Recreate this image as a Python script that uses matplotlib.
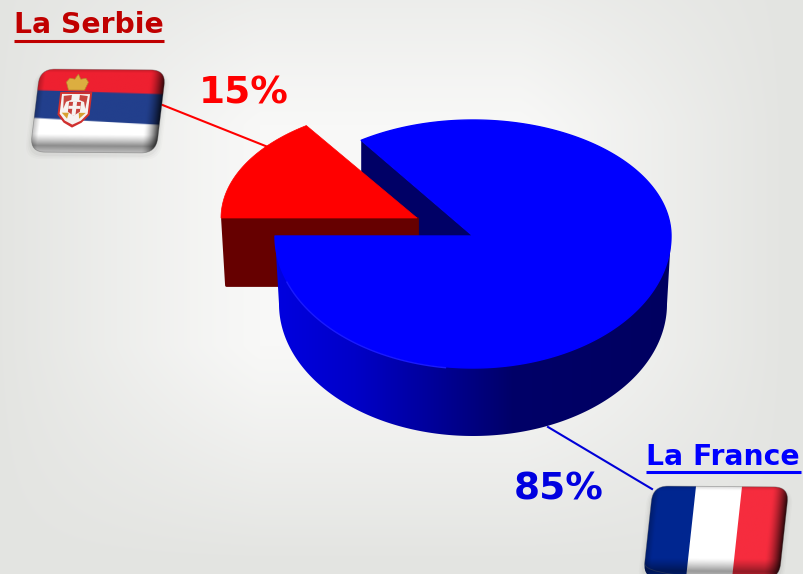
import numpy as np
import matplotlib
matplotlib.use('Agg')
import matplotlib.pyplot as plt
from matplotlib.patches import PathPatch, FancyBboxPatch, Polygon
from matplotlib.path import Path
from matplotlib.transforms import Affine2D
from matplotlib.colors import LinearSegmentedColormap

names = ['La Serbie', 'La France']
shares = [15, 85]
labels = ['15%', '85%']

plt.rcParams['font.family'] = ['DejaVu Sans']

fig = plt.figure(figsize=(8.04, 5.74), dpi=100)
ax = fig.add_axes([0, 0, 1, 1])

# background, soft white patch in the middle
xx, yy = np.meshgrid(np.arange(804), np.arange(574))
gx = np.clip((np.abs(xx - 390) - 130) / 270, 0, 1)
gy = np.clip((np.abs(yy - 235) - 110) / 220, 0, 1)
g = 1 - (1 - gx**1.1) * (1 - gy**1.1)
bg = np.dstack([248 - 21 * g, 248 - 20 * g, 247 - 22 * g]) / 255
ax.imshow(bg, extent=(0, 804, 574, 0), aspect='auto', zorder=0, interpolation='bilinear')


def arc(cx, cy, rx, ry, a0, a1, n=120):
    t = np.radians(np.linspace(a0, a1, n))
    return np.column_stack([cx + rx * np.cos(t), cy - ry * np.sin(t)])


def closed(pts):
    codes = [Path.MOVETO] + [Path.LINETO] * (len(pts) - 1) + [Path.CLOSEPOLY]
    return Path(np.vstack([pts, pts[0]]), codes)


# the pie starts at the left and goes clockwise, the view squeezes it a little
stretch = 1.03
cut = 180 - 360 * shares[0] / sum(shares) * stretch

# red slice, pulled out to the upper left
rc = (417, 218)
r_top = arc(rc[0], rc[1], 196, 112, 180, cut)
r_side = np.array([[rc[0] - 195, rc[1]], [rc[0], rc[1]], [rc[0], rc[1] + 67], [rc[0] - 191, rc[1] + 67]])

# blue slice, front half is bigger because of the perspective
bc = (473, 236)
depth = 68
rx, ry_back, ry_front = 198, 116, 132
b_back_arc = arc(bc[0], bc[1], rx, ry_back, cut, 0, 150)
b_front_arc = arc(bc[0], bc[1], rx, ry_front, 0, -180, 200)
b_top = np.vstack([b_back_arc, b_front_arc])
b_low = arc(bc[0], bc[1] + depth, rx - 4, ry_front, 180, 360, 200)
b_side = np.vstack([[[bc[0] - rx, bc[1]]], b_low, [[bc[0] + rx, bc[1]]]])
edge = b_back_arc[0]
b_back = np.array([[bc[0], bc[1]], edge, [edge[0], edge[1] + depth], [bc[0], bc[1] + depth]])

ax.add_patch(Polygon(b_back, closed=True, fc='#000066', ec='none', zorder=2))
ax.add_patch(Polygon(r_side, closed=True, fc='#660000', ec='#660000', lw=2, joinstyle='round', zorder=3))
ax.add_patch(PathPatch(closed(np.vstack([[rc], r_top])), fc='#ff0000', ec='#ff0000', lw=0.5, zorder=4))

side_cmap = LinearSegmentedColormap.from_list('side', [
    (0.0, '#0000e0'), (0.2, '#0000c8'), (0.37, '#0000a0'), (0.5, '#000080'),
    (0.6, '#000068'), (1.0, '#000060')])
side_img = ax.imshow(np.linspace(0, 1, 256).reshape(1, -1), cmap=side_cmap, aspect='auto',
                     extent=(bc[0] - rx, bc[0] + rx, 574, 0), zorder=5)
side_patch = PathPatch(closed(b_side), fc='none', ec='none', zorder=5)
ax.add_patch(side_patch)
side_img.set_clip_path(side_patch)
ax.add_patch(PathPatch(closed(np.vstack([[bc], b_top])), fc='#0000ff', ec='#0000ff', lw=1, joinstyle='round', zorder=6))
# light rim along the front edge
rim = arc(bc[0], bc[1] + 1, rx, ry_front, 200, 262, 60)
ax.plot(rim[:, 0], rim[:, 1], color='#1a1aff', lw=1, zorder=6.5)

# leader lines
ax.plot([160, 268], [104, 147], color='#ff0000', lw=1.5, zorder=1)
ax.plot([548, 652], [427, 489], color='#0000d8', lw=1.5, zorder=1)

# titles and percents
for name, x, y, col, x0, x1, yu in [(names[0], 89, 25, '#c00000', 14, 164, 41),
                                    (names[1], 723, 457, '#0000ff', 646, 801, 472)]:
    ax.text(x, y, name, color=col, fontsize=20.3, fontweight='bold', ha='center', va='center', zorder=8)
    ax.plot([x0, x1], [yu, yu], color=col, lw=2.2, solid_capstyle='butt', zorder=8)
ax.text(244, 94, labels[0], color='#ff0000', fontsize=27, fontweight='bold', ha='center', va='center', zorder=8)
ax.text(559, 490, labels[1], color='#0000e0', fontsize=27, fontweight='bold', ha='center', va='center', zorder=8)


def bevel(img, dark_right, dark_bottom):
    h, w = img.shape[:2]
    u, v = np.meshgrid((np.arange(w) + .5) / w, (np.arange(h) + .5) / h)
    sh = np.ones((h, w))
    sh *= 1 - dark_right * np.clip((u - 0.88) / 0.12, 0, 1)**1.5
    sh *= 1 - 0.25 * np.clip((0.05 - u) / 0.05, 0, 1)
    sh *= 1 - dark_bottom * np.clip((v - 0.78) / 0.14, 0, 1)**1.2
    sh *= 1 + dark_bottom * 0.8 * np.clip((v - 0.92) / 0.08, 0, 1)
    sh *= 1 - 0.15 * np.clip((0.04 - v) / 0.04, 0, 1)
    return np.clip(img * sh[:, :, None], 0, 1)


def place_flag(img, origin, uvec, vvec, w, h):
    m = Affine2D.from_values(uvec[0] / w, uvec[1] / w, vvec[0] / h, vvec[1] / h, origin[0], origin[1])
    tr = m + ax.transData
    # soft shadow
    for k, a in [(10, .015), (7, .02), (4, .03)]:
        ax.add_patch(FancyBboxPatch((-k / 2, 2), w + k, h + k / 2, boxstyle='round,pad=0,rounding_size=16',
                                    fc='black', ec='none', alpha=a, transform=tr, zorder=2))
    im = ax.imshow(img, extent=(0, w, h, 0), transform=tr, zorder=7, interpolation='bilinear', aspect='auto')
    box = FancyBboxPatch((0, 0), w, h, boxstyle='round,pad=0,rounding_size=15', fc='none', ec='#55555566',
                         lw=0.6, transform=tr, zorder=7.5)
    ax.add_patch(box)
    im.set_clip_path(box)
    return tr


# Serbian flag, stripes tilt a bit in the picture so blend them to keep the edges smooth
sw, sh = 126, 84
uu, vv = np.meshgrid(np.arange(sw), np.arange(sh))
red_w = np.clip(21 + 3 * uu / sw - vv + .5, 0, 1)[:, :, None]
white_w = np.clip(vv - 49 - 6 * uu / sw + .5, 0, 1)[:, :, None]
red = np.array([0xee, 0x20, 0x30]) / 255
blue = np.array([0x22, 0x3f, 0x8c]) / 255
serbia = red_w * red + white_w * np.ones(3) + (1 - red_w - white_w) * blue
serbia = bevel(serbia, 0.8, 0.45)
tr = place_flag(serbia, (40, 69), (126, 1), (-10, 83), sw, sh)

shield = np.array([[23, 23], [55, 23], [55, 46], [48, 54], [39, 59], [30, 54], [23, 46]])
ax.add_patch(Polygon(shield, closed=True, fc='#d0302e', ec='none', transform=tr, zorder=7.6))
inner = np.array([[25, 25], [53, 25], [53, 45], [47, 52], [39, 56], [31, 52], [25, 45]])
ax.add_patch(Polygon(inner, closed=True, fc='#f6f2f0', ec='none', transform=tr, zorder=7.7))
# eagle wings and small shield, only rough marks at this size
for pts, col in [([[27, 27], [35, 26], [35, 31], [30, 33], [28, 40]], '#c8443e'),
                 ([[51, 27], [43, 26], [43, 31], [48, 33], [50, 40]], '#c8443e'),
                 ([[33, 33], [45, 33], [45, 43], [39, 47], [33, 43]], '#c8443e'),
                 ([[37, 33], [41, 33], [41, 47], [37, 47]], '#f6f2f0'),
                 ([[33, 37], [45, 37], [45, 40], [33, 40]], '#f6f2f0'),
                 ([[27, 44], [34, 44], [33, 50]], '#d8a030'),
                 ([[51, 44], [44, 44], [45, 50]], '#d8a030')]:
    ax.add_patch(Polygon(np.array(pts), closed=True, fc=col, ec='none', transform=tr, zorder=7.8))
crown = np.array([[31, 21], [28, 13], [31, 9], [36, 10], [39, 5], [42, 10], [47, 9], [50, 13], [47, 21]])
ax.add_patch(Polygon(crown, closed=True, fc='#dcae40', ec='#b8842c', lw=0.5, transform=tr, zorder=7.8))

# French flag, runs off the bottom of the picture
fw, fh = 136, 92
france = np.ones((fh, fw, 3))
france[:, :int(fw * 0.32)] = np.array([0x00, 0x26, 0x90]) / 255
france[:, int(fw * 0.66):] = np.array([0xf6, 0x2c, 0x3e]) / 255
france = bevel(france, 0.85, 0.4)
place_flag(france, (653, 486), (136, 1), (-10, 92), fw, fh)

ax.set_xlim(0, 804)
ax.set_ylim(574, 0)
ax.axis('off')
fig.savefig('out.png', dpi=100)
